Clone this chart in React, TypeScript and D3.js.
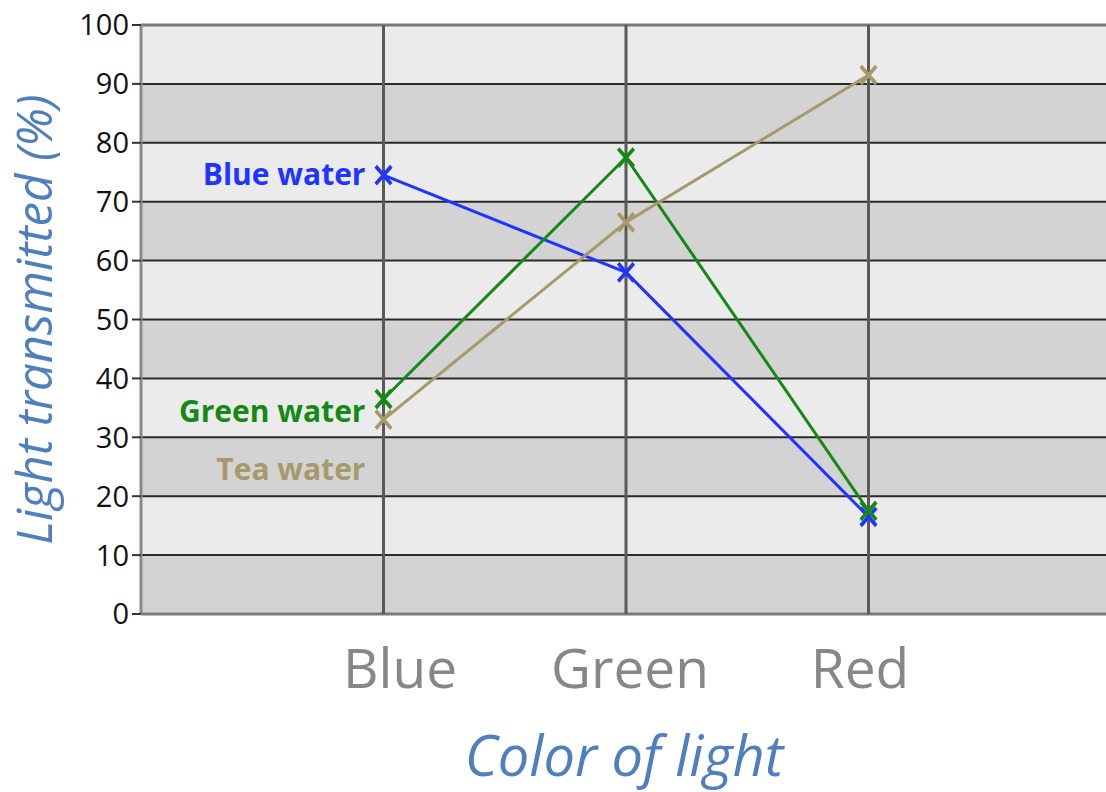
import React from 'react';
import * as d3 from 'd3';

const categories = ['Blue', 'Green', 'Red'];
const seriesNames = ['Blue water', 'Green water', 'Tea water'];
const blueWater = [74.5, 58, 16.5];
const greenWater = [36.5, 77.5, 17.5];
const teaWater = [33, 66.5, 91.5];
const seriesColors = ['#1f35ff', '#148a14', '#a69a6b'];
const labelValues = [74.6, 34.5, 24.6];
const yTicks = [0, 10, 20, 30, 40, 50, 60, 70, 80, 90, 100];
const yTitle = 'Light transmitted (%)';
const xTitle = 'Color of light';

const W = 1106;
const H = 792;
const left = 141;
const top = 25;
const bottom = 614;
const plotRight = 1111;

export default function App() {
  const x = d3.scalePoint<string>().domain(categories).range([left, plotRight]).padding(1);
  const xLabel = d3.scalePoint<string>().domain(categories).range([400, 860]);
  const y = d3.scaleLinear().domain([0, 100]).range([bottom, top]);
  const series = [blueWater, greenWater, teaWater];
  const line = d3
    .line<number>()
    .x((_, i) => x(categories[i]) as number)
    .y((d) => y(d));
  const sym = d3.symbol(d3.symbolX, 160);
  const bands = d3.range(0, 100, 10);

  return (
    <svg width={W} height={H} style={{ position: 'absolute', left: 0, top: 0 }} fontFamily="'Open Sans', sans-serif">
      <rect x={0} y={0} width={W} height={H} fill="#fff" />
      {bands.map((b, i) => (
        <rect key={b} x={left} y={y(b + 10)} width={plotRight - left} height={y(b) - y(b + 10)} fill={i % 2 === 0 ? '#d3d3d3' : '#ebebeb'} />
      ))}
      {yTicks.map((t) => (
        <line key={'g' + t} x1={left} x2={plotRight} y1={y(t)} y2={y(t)} stroke={t === 0 || t === 100 ? '#7a7a7a' : '#2a2a2a'} strokeWidth={t === 0 || t === 100 ? 3 : 2} />
      ))}
      {categories.map((c) => (
        <line key={'v' + c} x1={x(c)} x2={x(c)} y1={top} y2={bottom} stroke="#5a5a5a" strokeWidth={3} />
      ))}
      <line x1={left} x2={left} y1={top - 1} y2={bottom + 1} stroke="#8a8a8a" strokeWidth={3} />
      {yTicks.map((t) => (
        <g key={'t' + t}>
          <line x1={left - 9} x2={left} y1={y(t)} y2={y(t)} stroke="#333" strokeWidth={2} />
          <text x={left - 12} y={y(t)} dy="0.36em" textAnchor="end" fontSize={29} fill="#111">
            {t}
          </text>
        </g>
      ))}
      {series.map((s, si) => (
        <g key={'s' + si}>
          <path d={line(s) || ''} fill="none" stroke={seriesColors[si]} strokeWidth={3} />
          {s.map((v, i) => (
            <path key={i} d={sym() || ''} transform={`translate(${x(categories[i])},${y(v)}) scale(1,1.15)`} fill="none" stroke={seriesColors[si]} strokeWidth={3.5} />
          ))}
          <text x={(x(categories[0]) as number) - 18} y={y(labelValues[si])} dy="0.36em" textAnchor="end" fontSize={30} fontWeight="bold" fill={seriesColors[si]}>
            {seriesNames[si]}
          </text>
        </g>
      ))}
      {categories.map((c) => (
        <text key={'c' + c} x={xLabel(c)} y={688} textAnchor="middle" fontSize={55} fill="#878787">
          {c}
        </text>
      ))}
      <text x={624} y={776} textAnchor="middle" fontSize={56} fontStyle="italic" fill="#4f7fbf">
        {xTitle}
      </text>
      <text transform={`translate(52,${(top + bottom) / 2}) rotate(-90)`} textAnchor="middle" fontSize={49} fontStyle="italic" fill="#4f7fbf">
        {yTitle}
      </text>
    </svg>
  );
}
